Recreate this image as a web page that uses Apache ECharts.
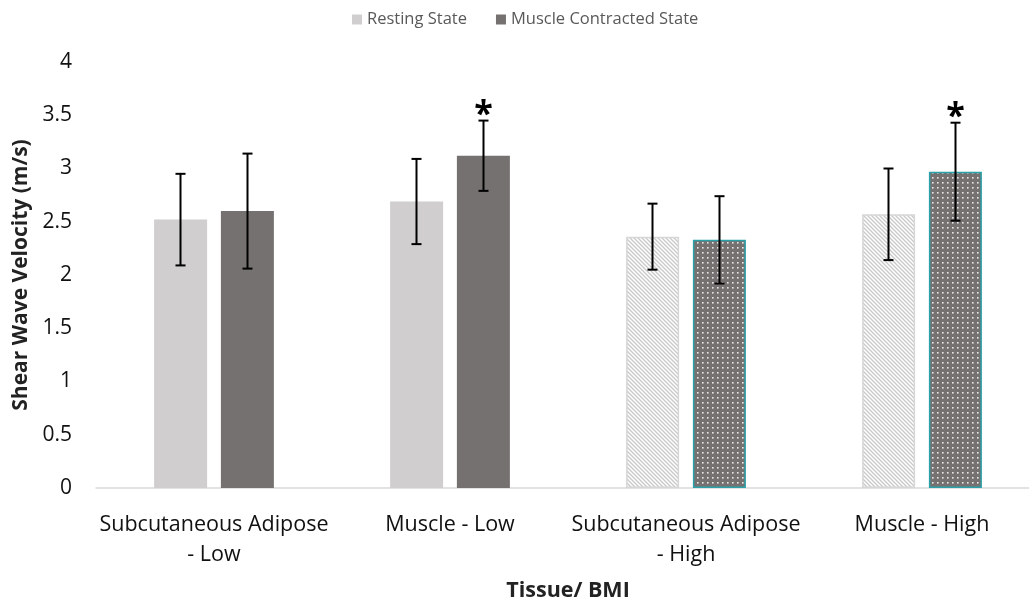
<!DOCTYPE html>
<html>
<head>
<meta charset="utf-8">
<script src="https://cdn.jsdelivr.net/npm/echarts@6/dist/echarts.min.js"></script>
<style>html,body{margin:0;padding:0;background:#fff}#c{width:1029px;height:603px}</style>
</head>
<body>
<div id="c"></div>
<script>
var categories = ['Subcutaneous Adipose\n- Low', 'Muscle - Low', 'Subcutaneous Adipose\n- High', 'Muscle - High'];
var restingValues = [2.52, 2.69, 2.36, 2.57];
var restingErr = [0.43, 0.40, 0.31, 0.43];
var contractedValues = [2.60, 3.12, 2.33, 2.97];
var contractedErr = [0.54, 0.33, 0.41, 0.46];
var contractedSignificant = [false, true, false, true];
var patterned = [false, false, true, true];
var yTicks = [0, 0.5, 1, 1.5, 2, 2.5, 3, 3.5, 4];

var FONT = 'Open Sans';
var restColor = '#d0cece';
var contColor = '#767171';
var tealBorder = '#2aa0a8';

function stripePattern() {
  var c = document.createElement('canvas');
  c.width = 4; c.height = 4;
  var g = c.getContext('2d');
  g.fillStyle = '#ffffff'; g.fillRect(0, 0, 4, 4);
  g.strokeStyle = '#c8c8c8'; g.lineWidth = 1.3;
  g.beginPath();
  g.moveTo(-1, -1); g.lineTo(5, 5);
  g.moveTo(-1, 3); g.lineTo(1, 5);
  g.moveTo(3, -1); g.lineTo(5, 1);
  g.stroke();
  return c;
}
function dotPattern() {
  var c = document.createElement('canvas');
  c.width = 5; c.height = 5;
  var g = c.getContext('2d');
  g.fillStyle = contColor; g.fillRect(0, 0, 5, 5);
  g.fillStyle = '#e8e8e8'; g.fillRect(2, 2, 1.6, 1.6);
  return c;
}
var stripes = {image: stripePattern(), repeat: 'repeat'};
var dots = {image: dotPattern(), repeat: 'repeat'};

var restData = restingValues.map(function (v, i) {
  return patterned[i] ? {value: v, itemStyle: {color: stripes, borderColor: '#d6d6d6', borderWidth: 1.5}} : v;
});
var contData = contractedValues.map(function (v, i) {
  return patterned[i] ? {value: v, itemStyle: {color: dots, borderColor: tealBorder, borderWidth: 1.5}} : v;
});

function errData(vals, errs, sig) {
  return vals.map(function (v, i) { return [i, v - errs[i], v + errs[i], sig ? (sig[i] ? 1 : 0) : 0]; });
}

function makeRender(offset) {
  return function (params, api) {
    var lo = api.coord([api.value(0), api.value(1)]);
    var hi = api.coord([api.value(0), api.value(2)]);
    var x = lo[0] + offset;
    var cap = 5;
    var children = [
      {type: 'line', shape: {x1: x, y1: hi[1], x2: x, y2: lo[1]}, style: {stroke: '#000', lineWidth: 2}},
      {type: 'line', shape: {x1: x - cap, y1: hi[1], x2: x + cap, y2: hi[1]}, style: {stroke: '#000', lineWidth: 2}},
      {type: 'line', shape: {x1: x - cap, y1: lo[1], x2: x + cap, y2: lo[1]}, style: {stroke: '#000', lineWidth: 2}}
    ];
    if (api.value(3) === 1) {
      children.push({type: 'text', style: {text: '*', x: x, y: hi[1] - 5, textAlign: 'center', textVerticalAlign: 'middle', font: 'bold 34px "' + FONT + '"', fill: '#000'}});
    }
    return {type: 'group', children: children};
  };
}

var chart = echarts.init(document.getElementById('c'), null, {renderer: 'canvas'});
chart.setOption({
  animation: false,
  legend: {
    data: ['Resting State', 'Muscle Contracted State'],
    top: 6, left: 347,
    itemWidth: 10, itemHeight: 10, itemGap: 29,
    icon: 'rect',
    textStyle: {fontFamily: FONT, fontSize: 16.5, color: '#595959'}
  },
  grid: {left: 96, width: 944, top: 62, bottom: 115, outerBoundsMode: 'none', containLabel: false},
  xAxis: {
    type: 'category',
    data: categories,
    name: 'Tissue/ BMI',
    nameLocation: 'middle',
    nameGap: 92,
    nameTextStyle: {fontFamily: FONT, fontSize: 21.5, fontWeight: 'bold', color: '#222'},
    axisLine: {lineStyle: {color: '#d9d9d9', width: 1.5}},
    axisTick: {show: false},
    axisLabel: {fontFamily: FONT, fontSize: 21.5, color: '#111', lineHeight: 30, margin: 22, interval: 0}
  },
  yAxis: {
    type: 'value',
    min: 0, max: 4, interval: 0.5,
    name: 'Shear Wave Velocity (m/s)',
    nameLocation: 'middle',
    nameGap: 61,
    nameTextStyle: {fontFamily: FONT, fontSize: 21, fontWeight: 'bold', color: '#222'},
    axisLine: {show: false},
    axisTick: {show: false},
    splitLine: {show: false},
    axisLabel: {fontFamily: FONT, fontSize: 21, color: '#111', margin: 24,
      formatter: function (v) { return yTicks.indexOf(v) >= 0 ? String(v) : ''; }}
  },
  series: [
    {name: 'Resting State', type: 'bar', data: restData, barWidth: 53, barGap: '26%', itemStyle: {color: restColor}},
    {name: 'Muscle Contracted State', type: 'bar', data: contData, barWidth: 53, barGap: '26%', itemStyle: {color: contColor}},
    {type: 'custom', renderItem: makeRender(-33.5), data: errData(restingValues, restingErr), z: 5},
    {type: 'custom', renderItem: makeRender(33.5), data: errData(contractedValues, contractedErr, contractedSignificant), z: 5}
  ]
});
</script>
</body>
</html>
